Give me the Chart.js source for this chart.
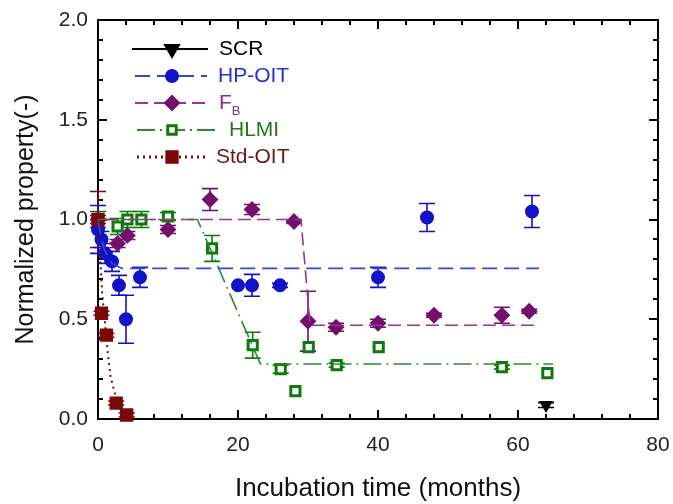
<!DOCTYPE html>
<html lang="en">
<head>
    <meta charset="UTF-8">
    <title>Normalized property vs incubation time</title>
    <style>
        body {
            margin: 0;
            background: #fff;
        }
        #chart {
            display: block;
        }
    </style>
    <script src="https://cdn.jsdelivr.net/npm/chart.js"></script>
</head>
<body>
    <canvas id="chart" width="673" height="504"></canvas>

    <script>
        // measured points (x = months, y = normalized value, err = +/- bar)
        var scrX = [64];
        var scrY = [0.07];
        var scrErr = [0.012];

        var hpX = [0, 0.5, 1, 2, 3, 4, 6, 20, 22, 26, 40, 47, 62];
        var hpY = [0.95, 0.9, 0.83, 0.79, 0.67, 0.50, 0.71, 0.67, 0.67, 0.67, 0.71, 1.01, 1.04];
        var hpErr = [0.12, 0.04, 0.05, 0.05, 0.05, 0.12, 0.05, 0, 0.055, 0.01, 0.05, 0.07, 0.08];

        var fbX = [0, 2.8, 4.2, 10, 16, 22, 28, 30, 34, 40, 48, 57.7, 61.6];
        var fbY = [1.0, 0.88, 0.92, 0.95, 1.10, 1.05, 0.99, 0.49, 0.46, 0.48, 0.52, 0.52, 0.54];
        var fbErr = [0.02, 0.02, 0.02, 0.02, 0.055, 0.025, 0.01, 0.15, 0.02, 0.02, 0.01, 0.04, 0.01];

        var hlX = [0, 2.8, 4.2, 6.2, 10, 16.3, 22.1, 26.1, 28.2, 30.1, 34.1, 40.1, 57.7, 64.2];
        var hlY = [1.0, 0.965, 1.0, 1.0, 1.015, 0.855, 0.37, 0.25, 0.14, 0.36, 0.27, 0.36, 0.26, 0.23];
        var hlErr = [0.04, 0.04, 0.04, 0.04, 0.02, 0.065, 0.065, 0.02, 0, 0, 0.01, 0, 0.01, 0];

        var stdX = [0, 0.5, 1.2, 2.6, 4.1];
        var stdY = [1.0, 0.53, 0.42, 0.08, 0.02];
        var stdErr = [0.14, 0.01, 0.01, 0.01, 0.01];

        // fitted trend lines
        var hpFitX = [0, 0.5, 1, 2, 3.4, 63];
        var hpFitY = [1.0, 0.9, 0.84, 0.78, 0.755, 0.755];
        var fbFitX = [1, 29, 30.3, 62.5];
        var fbFitY = [1.0, 1.0, 0.47, 0.47];
        var hlFitX = [0, 14.2, 23.2, 65];
        var hlFitY = [1.0, 1.0, 0.276, 0.276];
        var stdFitX = [0, 0.6, 1.0, 1.4, 1.8, 2.4, 3, 4];
        var stdFitY = [1.0, 0.63, 0.48, 0.33, 0.21, 0.13, 0.06, 0.01];

        // axes
        var xTicks = [0, 20, 40, 60, 80];
        var yTicks = [0.0, 0.5, 1.0, 1.5, 2.0];
        var xMinorStep = 4;
        var yMinorStep = 0.1;

        var BLUE = '#1212c8', BLUE_LINE = '#3048d8';
        var PURPLE = '#73106b', PURPLE_LINE = '#9a3391';
        var GREEN = '#0c7a0c', GREEN_LINE = '#2a8c2a';
        var RED = '#7a0808';
        var FONT = "'Liberation Sans', Arial, sans-serif";

        function pts(xs, ys) {
            return xs.map(function (x, i) { return { x: x, y: ys[i] }; });
        }

        function fitLine(xs, ys, color, dash, width) {
            return {
                type: 'line', data: pts(xs, ys), borderColor: color, borderWidth: width || 1.6,
                borderDash: dash, pointRadius: 0, fill: false, tension: 0, clip: false
            };
        }

        function markers(xs, ys, errs, style, color, fill, r, extra) {
            var ds = {
                type: 'scatter', data: pts(xs, ys), errs: errs, errColor: color,
                pointStyle: style, pointRadius: r, pointBackgroundColor: fill,
                pointBorderColor: color, pointBorderWidth: 2, showLine: false, clip: false
            };
            for (var k in extra) ds[k] = extra[k];
            return ds;
        }

        var datasets = [
            fitLine(hpFitX, hpFitY, BLUE_LINE, [15, 7]),
            fitLine(fbFitX, fbFitY, PURPLE_LINE, [13, 6]),
            fitLine(hlFitX, hlFitY, GREEN_LINE, [18, 5, 2, 5]),
            fitLine(stdFitX, stdFitY, RED, [2, 4], 2),
            markers(stdX, stdY, stdErr, 'rect', RED, RED, 8),
            markers(hlX, hlY, hlErr, 'rect', GREEN, '#ffffff', 6.5, { pointBorderWidth: 3 }),
            markers(fbX, fbY, fbErr, 'rectRot', PURPLE, PURPLE, 7),
            markers(hpX, hpY, hpErr, 'circle', BLUE, BLUE, 6),
            markers(scrX, scrY, scrErr, 'triangle', '#000', '#000', 6, { pointRotation: 180 })
        ];

        // box with inward ticks on all four sides
        var framePlugin = {
            id: 'frame',
            beforeDatasetsDraw: function (chart) {
                var ctx = chart.ctx, a = chart.chartArea;
                var xs = chart.scales.x, ys = chart.scales.y;
                ctx.save();
                ctx.strokeStyle = '#000';
                ctx.lineWidth = 2;
                ctx.strokeRect(a.left, a.top, a.right - a.left, a.bottom - a.top);
                ctx.beginPath();
                for (var v = xs.min; v <= xs.max + 1e-9; v += xMinorStep) {
                    var px = Math.round(xs.getPixelForValue(v));
                    var len = xTicks.indexOf(Math.round(v)) >= 0 ? 9 : 5;
                    ctx.moveTo(px, a.bottom); ctx.lineTo(px, a.bottom - len);
                    ctx.moveTo(px, a.top); ctx.lineTo(px, a.top + len);
                }
                for (var i = 0; i <= Math.round((ys.max - ys.min) / yMinorStep); i++) {
                    var val = ys.min + i * yMinorStep;
                    var py = Math.round(ys.getPixelForValue(val));
                    var major = yTicks.some(function (t) { return Math.abs(t - val) < 1e-6; });
                    var l2 = major ? 9 : 5;
                    ctx.moveTo(a.left, py); ctx.lineTo(a.left + l2, py);
                    ctx.moveTo(a.right, py); ctx.lineTo(a.right - l2, py);
                }
                ctx.stroke();
                ctx.restore();
            }
        };

        // vertical error bars with caps
        var errorPlugin = {
            id: 'errbars',
            beforeDatasetsDraw: function (chart) {
                var ctx = chart.ctx, xs = chart.scales.x, ys = chart.scales.y;
                ctx.save();
                ctx.lineWidth = 1.6;
                chart.data.datasets.forEach(function (ds) {
                    if (!ds.errs) return;
                    ctx.strokeStyle = ds.errColor;
                    ds.data.forEach(function (p, i) {
                        var e = ds.errs[i];
                        if (!e) return;
                        var px = xs.getPixelForValue(p.x);
                        var top = ys.getPixelForValue(p.y + e);
                        var bot = ys.getPixelForValue(p.y - e);
                        ctx.beginPath();
                        ctx.moveTo(px, top); ctx.lineTo(px, bot);
                        ctx.moveTo(px - 8, top); ctx.lineTo(px + 8, top);
                        ctx.moveTo(px - 8, bot); ctx.lineTo(px + 8, bot);
                        ctx.stroke();
                    });
                });
                ctx.restore();
            }
        };

        var legendItems = [
            { label: 'SCR', color: '#000', text: '#000', dash: [], style: 'triangle', rot: 180, fill: '#000', r: 8, x1: 132, x2: 208, y: 49 },
            { label: 'HP-OIT', color: BLUE_LINE, mk: BLUE, text: '#2233cc', dash: [15, 7], style: 'circle', fill: BLUE, r: 6, x1: 135, x2: 207, y: 76 },
            { label: 'F', sub: 'B', color: PURPLE_LINE, mk: PURPLE, text: '#8b2a87', dash: [13, 6], style: 'rectRot', fill: PURPLE, r: 7, x1: 135, x2: 208, y: 103 },
            { label: 'HLMI', color: GREEN_LINE, mk: GREEN, text: '#1f7a16', dash: [18, 5, 2, 5], style: 'rect', fill: '#fff', r: 6, bw: 3, x1: 137, x2: 218, y: 130 },
            { label: 'Std-OIT', color: RED, mk: RED, text: '#6e1616', dash: [2, 4], lw: 3, style: 'rect', fill: RED, r: 8, x1: 137, x2: 205, y: 157 }
        ];

        var legendPlugin = {
            id: 'customLegend',
            afterDraw: function (chart) {
                var ctx = chart.ctx;
                ctx.save();
                legendItems.forEach(function (it) {
                    ctx.strokeStyle = it.color;
                    ctx.lineWidth = it.lw || 1.8;
                    ctx.setLineDash(it.dash);
                    ctx.beginPath();
                    ctx.moveTo(it.x1, it.y); ctx.lineTo(it.x2, it.y);
                    ctx.stroke();
                    ctx.setLineDash([]);
                    ctx.fillStyle = it.fill;
                    ctx.strokeStyle = it.mk || it.color;
                    ctx.lineWidth = it.bw || 2;
                    Chart.helpers.drawPoint(ctx, {
                        pointStyle: it.style, radius: it.r, rotation: it.rot || 0, borderWidth: it.bw || 2
                    }, 172, it.y);
                    ctx.fillStyle = it.text;
                    ctx.textBaseline = 'middle';
                    ctx.textAlign = 'left';
                    ctx.font = '21px ' + FONT;
                    var tx = it.x2 + 11;
                    ctx.fillText(it.label, tx, it.y);
                    if (it.sub) {
                        var w = ctx.measureText(it.label).width;
                        ctx.font = '13px ' + FONT;
                        ctx.fillText(it.sub, tx + w, it.y + 8);
                    }
                });
                ctx.restore();
            }
        };

        var chart = new Chart(document.getElementById('chart').getContext('2d'), {
            type: 'scatter',
            data: { datasets: datasets },
            plugins: [framePlugin, errorPlugin, legendPlugin],
            options: {
                responsive: false,
                animation: false,
                layout: { padding: { top: 20, right: 15, left: 0, bottom: 0 } },
                plugins: { legend: { display: false }, tooltip: { enabled: false } },
                scales: {
                    x: {
                        type: 'linear', min: 0, max: 80,
                        afterBuildTicks: function (s) { s.ticks = xTicks.map(function (v) { return { value: v }; }); },
                        ticks: { font: { size: 21, family: FONT }, color: '#222', padding: 14, maxRotation: 0 },
                        grid: { display: false, drawTicks: false },
                        border: { display: false },
                        title: { display: true, text: 'Incubation time (months)', font: { size: 26, family: FONT }, color: '#111', padding: 0 },
                        afterFit: function (s) { s.height = 85; s.paddingRight = 0; s.paddingLeft = 0; }
                    },
                    y: {
                        type: 'linear', min: 0, max: 2,
                        afterBuildTicks: function (s) { s.ticks = yTicks.map(function (v) { return { value: v }; }); },
                        ticks: {
                            font: { size: 21, family: FONT }, color: '#222', padding: 10,
                            callback: function (v) { return Number(v).toFixed(1); }
                        },
                        grid: { display: false, drawTicks: false },
                        border: { display: false },
                        title: { display: true, text: 'Normalized property(-)', font: { size: 25, family: FONT }, color: '#111', padding: { top: 11, bottom: 0 } },
                        afterFit: function (s) { s.width = 98; s.paddingTop = 0; s.paddingBottom = 0; }
                    }
                }
            }
        });
    </script>
</body>
</html>
